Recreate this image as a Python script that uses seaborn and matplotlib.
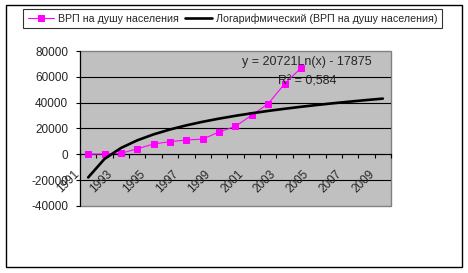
import numpy as np
import pandas as pd
import matplotlib
matplotlib.use("Agg")
import matplotlib.pyplot as plt
import matplotlib.transforms as mtransforms
from matplotlib.patches import Rectangle
import seaborn as sns

sns.set_style("white")
plt.rcParams['font.family'] = ['Liberation Sans', 'DejaVu Sans']

years = list(range(1991, 2010))
data_years = list(range(1991, 2005))
grp = [100, 300, 800, 4300, 8000, 9800, 11100, 11800, 17300, 21700, 30400, 39200, 54600, 66800]
coef_a = 20721
coef_b = -17875
r2_text = "R² = 0,584"
eq_text = "y = 20721Ln(x) - 17875"
series_label = "ВРП на душу населения"
trend_label = "Логарифмический (ВРП на душу населения)"
yticks = [-40000, -20000, 0, 20000, 40000, 60000, 80000]
xlabels = [str(y) for y in years[::2]]

W, H = 468, 273
fig = plt.figure(figsize=(W / 100, H / 100), dpi=100)
fig.patch.set_facecolor('white')

# plot area pixel box
L, R, T, B = 80, 391, 51, 206
ax = fig.add_axes([L / W, (H - B) / H, (R - L) / W, (B - T) / H])
ax.set_facecolor('#C0C0C0')

idx_all = np.arange(len(years))
idx_data = np.arange(len(data_years))
trend = coef_a * np.log(idx_all + 1) + coef_b

df = pd.DataFrame({'x': idx_data, 'y': grp})
dft = pd.DataFrame({'x': idx_all, 'y': trend})

for yv in yticks[1:-1]:
    ax.axhline(yv, color='black', lw=0.8, zorder=1)

sns.lineplot(data=df, x='x', y='y', ax=ax, color='#FF00FF', lw=0.8, marker='s',
             markersize=4.3, markeredgecolor='#FF00FF', markerfacecolor='#FF00FF',
             label=series_label, zorder=3)
sns.lineplot(data=dft, x='x', y='y', ax=ax, color='black', lw=1.9,
             label=trend_label, zorder=4)

ax.set_xlim(-0.5, len(years) - 0.5)
ax.set_ylim(-40000, 80000)
ax.set_xlabel('')
ax.set_ylabel('')

ax.set_yticks(yticks)
ax.set_yticklabels([str(v) for v in yticks], fontsize=8.5)
ax.tick_params(axis='y', direction='out', length=3, width=0.8, color='black', pad=5.5, left=True)

# x axis crosses at 0
ax.set_xticks([])
ax.set_xticks(np.arange(-0.5, len(years), 1.0), minor=True)
ax.tick_params(axis='x', which='minor', direction='out', length=3, width=0.8, color='black', bottom=True, labelbottom=False)
ax.spines['bottom'].set_position(('data', 0))
ax.spines['bottom'].set_color('black')
ax.spines['bottom'].set_linewidth(0.8)
ax.spines['left'].set_color('black')
ax.spines['left'].set_linewidth(0.8)
for s in ['top', 'right']:
    ax.spines[s].set_visible(False)
ax.add_patch(Rectangle((0, 0), 1, 1, transform=ax.transAxes, fill=False,
                       edgecolor='#808080', lw=1.0, zorder=0.5, clip_on=False))

off = mtransforms.ScaledTranslation(-6 / 100, -14 / 100, fig.dpi_scale_trans)
for i, lab in zip(idx_all[::2], xlabels):
    ax.text(i, 0, lab, rotation=45, ha='right', va='top', fontsize=8.5,
            transform=ax.transData + off, zorder=5)

ax.legend().remove()

# equation text
ax.text((307 - L) / (R - L), 1 - (62 - T) / (B - T), eq_text, transform=ax.transAxes,
        ha='center', va='center', fontsize=9, zorder=6)
ax.text((307 - L) / (R - L), 1 - (81 - T) / (B - T), r2_text, transform=ax.transAxes,
        ha='center', va='center', fontsize=9, zorder=6)

handles, labels = ax.get_legend_handles_labels()
leg = fig.legend(handles, labels, loc='center', bbox_to_anchor=((23 + 442) / 2 / W, 1 - 18.5 / H),
                 ncol=2, fontsize=7.7, frameon=True, fancybox=False, edgecolor='black',
                 handlelength=2.5, handletextpad=0.35, columnspacing=0.6,
                 borderpad=0.4, borderaxespad=0)
leg.get_frame().set_linewidth(0.8)

fig.patches.append(Rectangle((5.5 / W, (H - 267) / H), 456 / W, 262 / H, transform=fig.transFigure,
                             fill=False, edgecolor='black', lw=1.0))

fig.savefig('out.png', dpi=100)
